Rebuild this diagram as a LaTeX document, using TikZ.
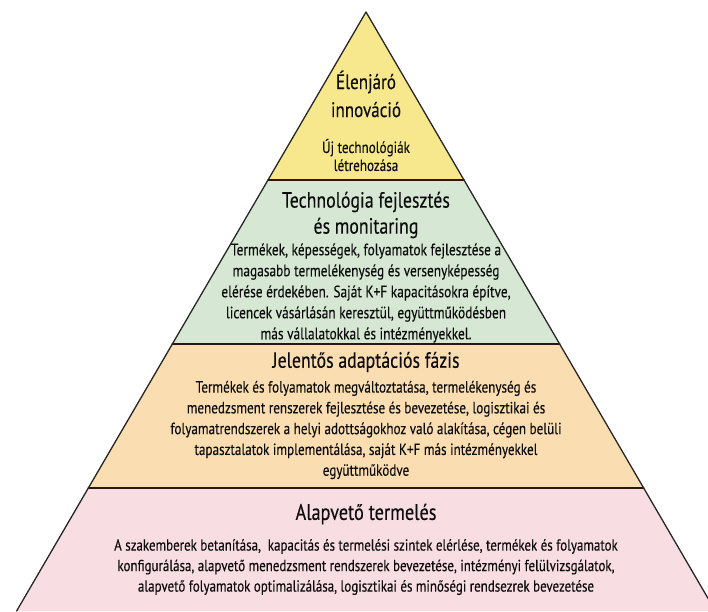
\documentclass[tikz,border=0pt]{standalone}
\usepackage{fontspec}
\setmainfont{PT Sans}[FakeStretch=0.81,FakeBold=0.3]
\usepackage{tikz}
\usetikzlibrary{positioning}

\definecolor{topyellow}{RGB}{247,231,141}
\definecolor{techgreen}{RGB}{214,232,212}
\definecolor{adaptorange}{RGB}{250,221,176}
\definecolor{basepink}{RGB}{248,221,226}

\tikzset{
  band/.style={draw=black!85, line width=1.3pt, line join=round},
  divider/.style={draw=black!80!brown, line width=1.6pt},
  title/.style={align=center, inner sep=0pt, text=black!95,
    font=\fontsize{22}{26}\selectfont},
  body/.style={align=center, inner sep=0pt, text=black!95,
    font=\fontsize{16.2}{20.8}\selectfont}
}

\begin{document}
\begin{tikzpicture}[line cap=round,line join=round,x=1pt,y=-1pt]
  \useasboundingbox (0,0) rectangle (708,611);
  \clip (0,0) rectangle (708,611);
  % pyramid corners
  \coordinate (apex) at (366,12);
  \coordinate (l1) at (268,180);   \coordinate (r1) at (464,180);
  \coordinate (l2) at (172.3,344); \coordinate (r2) at (559.7,344);
  \coordinate (l3) at (88.3,488);  \coordinate (r3) at (643.7,488);
  \coordinate (l4) at (16.6,611);  \coordinate (r4) at (715.4,611);
  % bands
  \fill[topyellow] (apex) -- (l1) -- (r1) -- cycle;
  \fill[techgreen] (l1) -- (l2) -- (r2) -- (r1) -- cycle;
  \fill[adaptorange] (l2) -- (l3) -- (r3) -- (r2) -- cycle;
  \fill[basepink] (l3) -- (l4) -- (r4) -- (r3) -- cycle;
  \draw[divider] (l1) -- (r1);
  \draw[divider] (l2) -- (r2);
  \draw[divider] (l3) -- (r3);
  \draw[band] (l4) -- (apex) -- (r4);

  % texts
  \node[title, font=\fontsize{21}{28}\selectfont] (innotitle) at (366,94) {Élenjáró\\innováció};
  \node[body, font=\fontsize{16.2}{18}\selectfont] (innobody) at (366,155) {Új technológiák\\létrehozása};

  \node[title] (techtitle) at (366,215) {Technológia fejlesztés\\és monitaring};
  \node[body, font=\fontsize{16.5}{21}\selectfont] (techbody) at (366,293) {Termékek, képességek, folyamatok fejlesztése a\\magasabb termelékenység és versenyképesség\\elérése érdekében. Saját K+F kapacitásokra építve,\\licencek vásárlásán keresztül, együttműködésben\\más vállalatokkal és intézményekkel.};

  \node[title] (adapttitle) at (366,362) {Jelentős adaptációs fázis};
  \node[body] (adaptbody) at (366,430) {Termékek és folyamatok megváltoztatása, termelékenység és\\menedzsment renszerek fejlesztése és bevezetése, logisztikai és\\folyamatrendszerek a helyi adottságokhoz való alakítása, cégen belüli\\tapasztalatok implementálása, saját K+F más intézményekkel\\együttműködve};

  \node[title, font=\fontsize{22.5}{26}\selectfont] (basetitle) at (366,514) {Alapvető termelés};
  \node[body, font=\fontsize{16}{20.5}\selectfont] (basebody) at (366,567) {A szakemberek betanítása,\ \ kapacitás és termelési szintek elérlése, termékek és folyamatok\\konfigurálása, alapvető menedzsment rendszerek bevezetése, intézményi felülvizsgálatok,\\alapvető folyamatok optimalizálása, logisztikai és minőségi rendsezrek bevezetése};
\end{tikzpicture}
\end{document}
